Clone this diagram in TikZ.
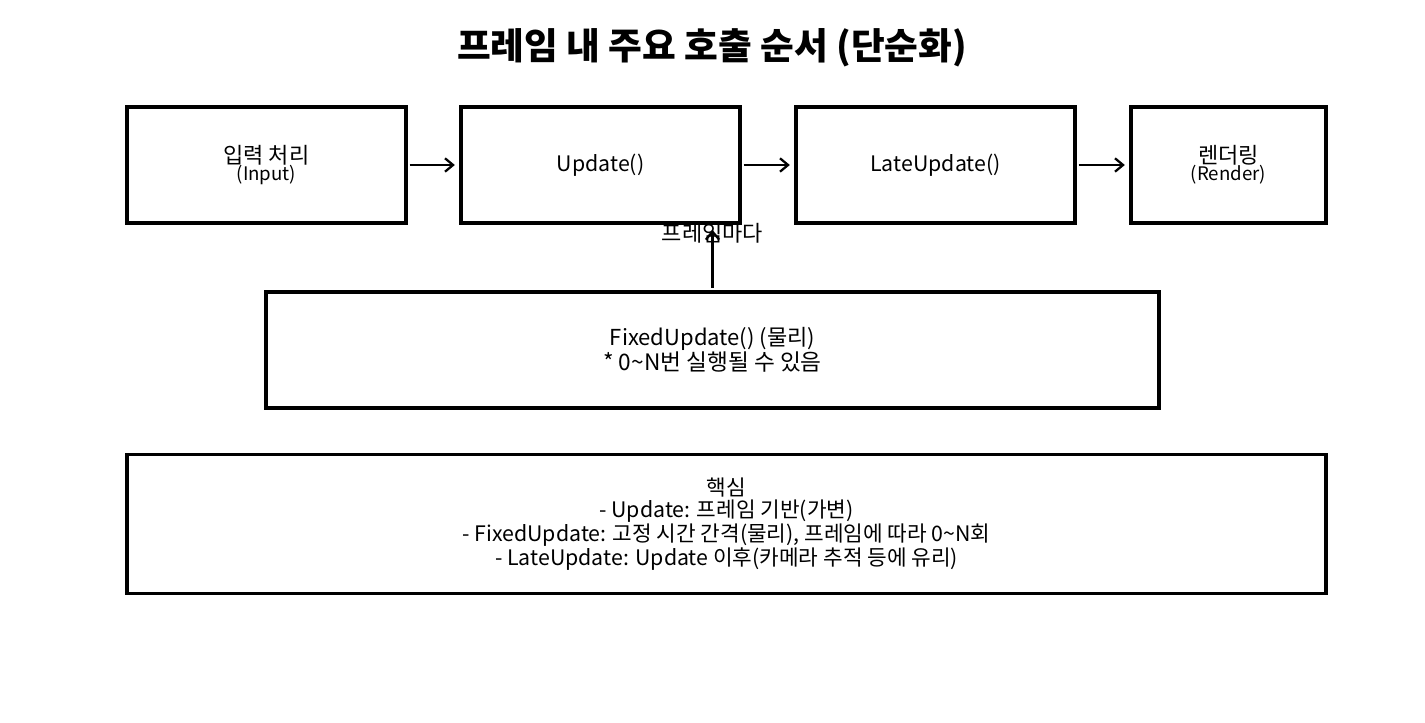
\documentclass[tikz,border=0pt]{standalone}
\usepackage{fontspec}
\setmainfont{Noto Sans CJK KR}
\usetikzlibrary{arrows.meta}

\tikzset{
  stagebox/.style={draw, line width=2.3pt, minimum height=87pt, align=center, inner sep=0pt},
  flowarrow/.style={-{Straight Barb[length=6pt,width=10pt,line width=1.7pt]}, line width=1.7pt},
}

\begin{document}
\begin{tikzpicture}[x=0.75pt,y=0.75pt,yscale=-1,xscale=1]
\useasboundingbox (0,0) rectangle (1425,723);

% Title
\node (title) at (712,48) {\fontsize{27.5}{32}\selectfont\bfseries 프레임 내 주요 호출 순서 (단순화)};

% Stages
\node [stagebox, minimum width=209.25pt] (input) at (266.5,165) {\fontsize{16.5}{16}\selectfont 입력 처리\\[-1pt]\fontsize{14}{15}\selectfont (Input)};
\node [stagebox, minimum width=209.25pt] (upd) at (600.5,165) {\fontsize{16}{18}\selectfont Update()};
\node [stagebox, minimum width=209.25pt] (late) at (935.5,165) {\fontsize{16}{18}\selectfont LateUpdate()};
\node [stagebox, minimum width=146.25pt] (render) at (1228.5,165) {\fontsize{16.5}{16}\selectfont 렌더링\\[-1pt]\fontsize{14}{15}\selectfont (Render)};

% FixedUpdate
\node [stagebox, minimum width=669.75pt] (fixed) at (712.5,350) {\fontsize{16.5}{18}\selectfont FixedUpdate() (물리)\\\fontsize{17}{18}\selectfont * 0\textasciitilde N번 실행될 수 있음};

% Summary
\node [stagebox, minimum width=899.25pt, minimum height=104.25pt, font=\fontsize{16}{16.8}\selectfont] (core) at (726.5,524) {핵심\\- Update: 프레임 기반(가변)\\- FixedUpdate: 고정 시간 간격(물리), 프레임에 따라 0\textasciitilde N회\\- LateUpdate: Update 이후(카메라 추적 등에 유리)};

% Arrows
\draw [flowarrow, shorten <=1.5pt, shorten >=3.5pt] (input.east) -- (upd.west);
\draw [flowarrow, shorten <=1.5pt, shorten >=3.5pt] (upd.east) -- (late.west);
\draw [flowarrow, shorten <=1.5pt, shorten >=3.5pt] (late.east) -- (render.west);

% Per-frame label
\coordinate (tick) at (fixed.north |- upd.south);
\node [anchor=north, inner sep=0pt, font=\fontsize{16.5}{18}\selectfont] (perframe) at ([yshift=-1pt]tick) {프레임마다};
\draw [flowarrow, shorten <=2pt, shorten >=4pt] (fixed.north) -- (tick);

\end{tikzpicture}
\end{document}
